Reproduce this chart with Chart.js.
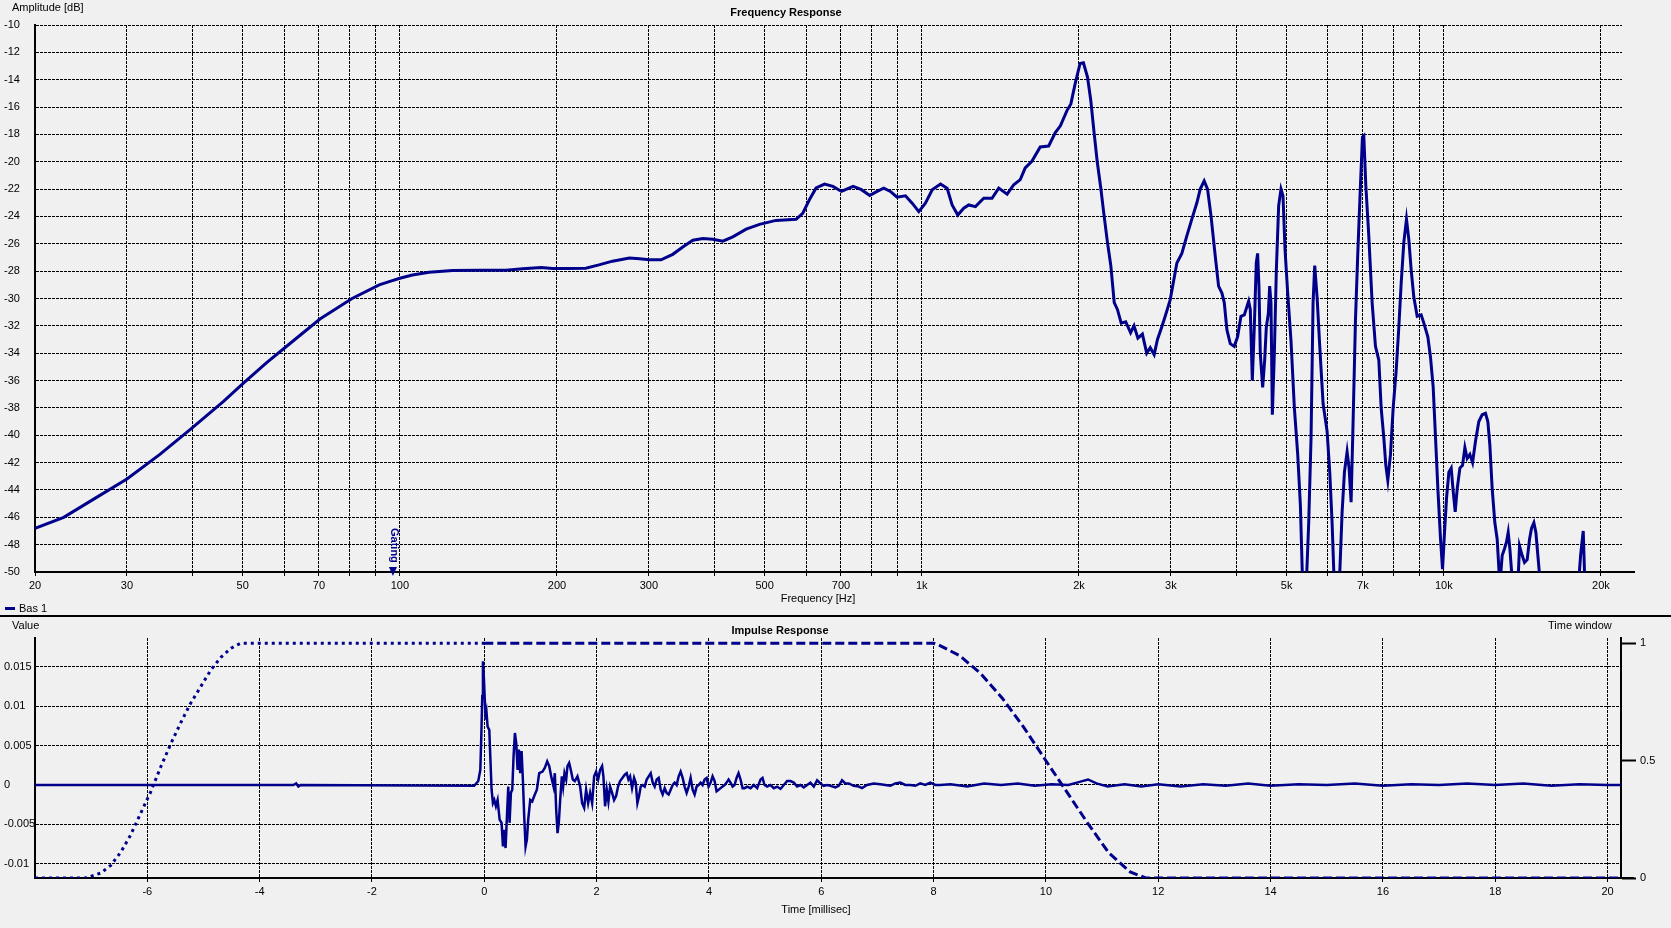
<!DOCTYPE html>
<html>
<head>
<meta charset="utf-8">
<title>Frequency / Impulse Response</title>
<script src="https://cdn.jsdelivr.net/npm/chart.js@4.4.1/dist/chart.umd.min.js"></script>
<style>
  body { margin: 0; background: #f0f0f0; font-family: "Liberation Sans", Arial, sans-serif; font-size: 11px; color: #000; }
  #wrap { position: relative; width: 1671px; height: 928px; overflow: hidden; }
  .txt { position: absolute; line-height: 14px; white-space: nowrap; }
  .mid { transform: translateX(-50%); }
  .bold { font-weight: bold; }
  canvas { position: absolute; left: 0; }
</style>
</head>
<body>
<div id="wrap">
  <canvas id="freqChart" width="1671" height="616" style="top:0"></canvas>
  <canvas id="impChart" width="1671" height="312" style="top:616px"></canvas>

  <div class="txt" style="left:12px;top:0">Amplitude [dB]</div>
  <div class="txt mid bold" style="left:786px;top:5px">Frequency Response</div>
  <div class="txt mid" style="left:818px;top:591px">Frequency [Hz]</div>

  <div style="position:absolute;left:5px;top:607px;width:10px;height:3px;background:#00008b"></div>
  <div class="txt" style="left:19px;top:601px">Bas 1</div>
  <div style="position:absolute;left:0;top:615px;width:1671px;height:2px;background:#000"></div>

  <div class="txt" style="left:12px;top:618px">Value</div>
  <div class="txt mid bold" style="left:780px;top:623px">Impulse Response</div>
  <div class="txt" style="left:1548px;top:618px">Time window</div>
  <div class="txt mid" style="left:816px;top:902px">Time [millisec]</div>
</div>

<script>
// Frequency response (Hz / dB)
const freqHz = [
  20, 22.7, 26.1, 30, 34.7, 39.9, 46, 50.1, 55.5, 61.1, 70.3, 81, 91.3, 95.4,
  100, 105.7, 113.8, 126.2, 142, 159.7, 171.9, 186.5, 196.3, 208.1, 227.1, 240.7,
  255.5, 275.3, 287.9, 300.8, 316.5, 333.3, 348.4, 364.2, 380.6, 397.8, 415.7,
  434.4, 460.8, 488.8, 525.6, 574.3, 591.3, 609, 627.3, 651.1, 675.8, 701.5,
  738.6, 766.2, 794.9, 821, 845.5, 870.6, 896.4, 930.5, 958.3, 986.9,
  1016, 1047, 1086, 1118, 1143, 1172, 1203, 1230, 1267, 1314, 1363, 1404, 1457,
  1500, 1544, 1578, 1625, 1686, 1750, 1802, 1843, 1897, 1930, 1967, 2010, 2040,
  2077, 2107, 2136, 2168, 2202, 2234, 2268, 2302, 2337, 2370, 2410, 2458, 2512,
  2550, 2594, 2646, 2697, 2739, 2787, 2828, 2881, 2926, 2991, 3081, 3149, 3220,
  3291, 3365, 3415, 3475, 3527, 3580, 3649, 3703, 3758, 3797, 3842, 3899, 3968,
  4027, 4087, 4148, 4228, 4259, 4297, 4335, 4373, 4399, 4425, 4451, 4498, 4538,
  4571, 4612, 4639, 4666, 4694, 4736, 4778, 4827, 4877, 4920, 4964, 5023, 5097,
  5173, 5250, 5312, 5375, 5439, 5511, 5568, 5618, 5659, 5718, 5786, 5872, 5976,
  6047, 6110, 6182, 6292, 6386, 6452, 6528, 6586, 6644, 6703, 6773, 6843, 6924,
  6985, 7027, 7089, 7183, 7290, 7398, 7508, 7586, 7676, 7744, 7812, 7905, 7999,
  8105, 8201, 8286, 8384, 8483, 8571, 8660, 8762, 8893, 9051, 9158, 9321, 9432,
  9544, 9643, 9742, 9858, 9945, 10033, 10122, 10227, 10333, 10424, 10517, 10610, 10736,
  10863, 10976, 11089, 11220, 11353, 11505, 11672, 11845, 12021, 12145, 12253,
  12380, 12527, 12656, 12806, 12938, 13072, 13188, 13286, 13384, 13483, 13723,
  13865, 13967, 14133, 14279, 14448, 14598, 14727, 14880, 15011, 15145, 15279,
  15500, 18000, 18149, 18284, 18500, 18637, 18800, 21950
];
const ampDb = [
  -46.8, -46.0, -44.6, -43.2, -41.4, -39.5, -37.5, -36.2, -34.7, -33.4, -31.5, -30.0, -29.0, -28.77,
  -28.52, -28.28, -28.08, -27.96, -27.93, -27.93, -27.83, -27.73, -27.81, -27.81, -27.78, -27.54,
  -27.27, -27.04, -27.09, -27.17, -27.17, -26.77, -26.23, -25.74, -25.62, -25.67, -25.81,
  -25.49, -24.93, -24.58, -24.29, -24.21, -23.77, -22.78, -21.92, -21.63, -21.80, -22.17,
  -21.80, -22.04, -22.46, -22.17, -21.93, -22.17, -22.59, -22.49, -23.03, -23.65,
  -23.03, -22.05, -21.63, -21.93, -23.16, -23.90, -23.40, -23.16, -23.28, -22.67, -22.67, -21.93, -22.37,
  -21.68, -21.31, -20.45, -19.96, -18.92, -18.85, -17.86, -17.37, -16.26, -15.77, -14.29, -12.81, -12.76,
  -13.80, -15.5, -17.7, -20.0, -21.9, -23.9, -25.9, -27.6, -30.3, -30.8, -31.8, -31.7, -32.5,
  -32.0, -32.9, -32.6, -34.0, -33.6, -34.1, -33.0, -32.1, -31.3, -30.1, -27.4, -26.7, -25.4,
  -24.2, -23.0, -22.0, -21.4, -22.0, -23.9, -26.9, -29.1, -29.6, -30.3, -32.3, -33.3, -33.5,
  -32.8, -31.3, -31.2, -30.2, -30.8, -36.0, -32.1, -27.4, -26.7, -29.1, -34.0, -36.5, -34.5,
  -32.1, -31.1, -29.1, -30.3, -38.5, -34.0, -27.9, -23.2, -22.0, -22.5, -26.4, -29.6, -33.1,
  -38.0, -41.4, -45.1, -52, -52, -46.4, -40.2, -30.3, -27.6, -29.9, -33.5, -37.7, -39.7,
  -42.7, -46.4, -52, -52, -45.6, -42.7, -41.2, -42.4, -44.9, -39.0, -31.6, -26.7, -21.7,
  -18.2, -18.1, -21.7, -25.4, -30.3, -33.5, -34.5, -38.0, -40.2, -42.2, -43.3, -41.4, -38.0,
  -35.3, -32.1, -28.9, -25.9, -24.2, -25.7, -27.9, -29.9, -31.3, -31.2, -31.8, -32.8, -34.3,
  -36.5, -40.2, -43.9, -47.6, -49.8, -47.1, -44.6, -42.7, -42.4, -44.1, -45.6, -43.9, -42.4,
  -42.2, -40.9, -41.7, -41.4, -42.0, -40.4, -39.0, -38.5, -38.4, -39.0, -40.7,
  -43.9, -46.4, -47.6, -51, -48.8, -48.3, -47.8, -47.1, -48.3, -49.9, -51,
  -51, -48.1, -48.8, -49.3, -49.1, -47.6, -46.8, -46.4, -47.1, -48.8, -50.5,
  -55, -55, -50.5, -48.8, -47.0, -51, -55, -55
];
const freqGrid = [20, 30, 40, 50, 60, 70, 80, 90, 100, 200, 300, 400, 500, 600, 700, 800, 900,
  1000, 2000, 3000, 4000, 5000, 6000, 7000, 8000, 9000, 10000, 20000];
const freqLabels = ['20', '30', '', '50', '', '70', '', '', '100', '200', '300', '', '500', '', '700', '', '',
  '1k', '2k', '3k', '', '5k', '', '7k', '', '', '10k', '20k'];
const ampTicks = [-50, -48, -46, -44, -42, -40, -38, -36, -34, -32, -30, -28, -26, -24, -22, -20, -18, -16, -14, -12, -10];
const gatingHz = 97;

// Impulse response (ms / value)
const impTimeMs = [
  -8, -3.40, -3.35, -3.31, -3.27, -0.18, -0.107, -0.071, -0.053, -0.036, -0.024, -0.006,
  0.006, 0.024, 0.041, 0.059, 0.089, 0.107, 0.130, 0.154, 0.178, 0.207, 0.237, 0.273,
  0.308, 0.332, 0.356, 0.379, 0.403, 0.427, 0.450, 0.474, 0.498, 0.521, 0.545, 0.569,
  0.593, 0.616, 0.640, 0.664, 0.687, 0.711, 0.735, 0.759, 0.782, 0.818, 0.853, 0.889,
  0.936, 0.978, 1.037, 1.079, 1.120, 1.156, 1.197, 1.233, 1.256, 1.280, 1.304, 1.327,
  1.351, 1.381, 1.404, 1.428, 1.458, 1.481, 1.511, 1.541, 1.576, 1.612, 1.659, 1.707,
  1.742, 1.778, 1.813, 1.849, 1.884, 1.920, 1.956, 1.991, 2.027, 2.062, 2.098, 2.121,
  2.151, 2.181, 2.210, 2.240, 2.276, 2.311, 2.347, 2.382, 2.418, 2.459, 2.501, 2.536,
  2.566, 2.596, 2.631, 2.667, 2.696, 2.726, 2.756, 2.785, 2.821, 2.856, 2.892, 2.927,
  2.963, 2.999, 3.034, 3.070, 3.105, 3.141, 3.176, 3.212, 3.247, 3.283, 3.319, 3.354,
  3.390, 3.425, 3.461, 3.496, 3.532, 3.567, 3.603, 3.639, 3.674, 3.710, 3.745, 3.781,
  3.816, 3.852, 3.887, 3.923, 3.959, 3.994, 4.030, 4.065, 4.101, 4.136, 4.172, 4.207,
  4.243, 4.279, 4.314, 4.350, 4.385, 4.421, 4.456, 4.492, 4.527, 4.563, 4.599, 4.634,
  4.681, 4.741, 4.800, 4.859, 4.919, 4.954, 4.990, 5.037, 5.096, 5.156, 5.215, 5.274,
  5.333, 5.393, 5.452, 5.511, 5.570, 5.630, 5.689, 5.748, 5.807, 5.867, 5.926, 5.985,
  6.044, 6.104, 6.163, 6.252, 6.311, 6.370, 6.430, 6.489, 6.578, 6.667, 6.726, 6.815,
  6.933, 7.052, 7.141, 7.230, 7.319, 7.407, 7.496, 7.585, 7.674, 7.763, 7.852, 7.941,
  8.030, 8.119, 8.3, 8.6, 8.9, 9.2, 9.5, 9.8, 10.1, 10.4, 10.6, 10.75, 10.9, 11.1, 11.4,
  11.7, 12.0, 12.4, 12.8, 13.2, 13.6, 14.0, 14.5, 15.0, 15.5, 16.0, 16.5, 17.0, 17.5,
  18.0, 18.5, 19.0, 19.5, 20.0, 20.24
];
const impValue = [
  0, 0, 0.0002, -0.0002, 0, -0.0001, 0.0005, 0.0019, 0.0062, 0.0113, 0.0157, 0.0134,
  0.0113, 0.0083, 0.0091, 0.0074, 0.0070, 0.0036, -0.0006, -0.0023, -0.0019, -0.0027, -0.0019, -0.0044,
  -0.0048, -0.0078, -0.0057, -0.0080, -0.0040, -0.0002, -0.0048, -0.0010, -0.0006, 0.0036, 0.0066, 0.0053,
  0.0019, 0.0045, 0.0015, 0.0043, 0.0007, -0.0040, -0.0078, -0.0069, -0.0044, -0.0019, -0.0021, -0.0014,
  -0.0006, 0.0015, 0.0017, 0.0022, 0.0030, 0.0024, 0.0009, -0.0002, 0.0015, -0.0031, -0.0061, -0.0048,
  -0.0019, 0.0011, -0.0002, 0.0015, 0.0007, 0.0024, 0.0028, 0.0019, 0.0007, 0.0005, 0.0011, -0.0002,
  -0.0023, -0.0029, -0.0006, -0.0023, -0.0010, -0.0023, 0.0011, 0.0017, 0.0007, 0.0019, 0.0024, 0.0011,
  -0.0027, -0.0006, -0.0021, -0.0002, -0.0010, -0.0019, -0.0014, -0.0002, 0.0005, 0.0009, 0.0013, 0.0015,
  0.0007, 0.0011, -0.0004, 0.0009, 0.0003, -0.0023, -0.0014, -0.0002, 0, -0.0002, 0.0007, 0.0011,
  0.0015, 0.0003, -0.0002, 0.0007, 0.0009, -0.0006, -0.0012, -0.0004, -0.0010, -0.0012, -0.0006, 0,
  0.0003, 0, 0.0011, 0.0017, 0.0009, -0.0002, -0.0010, -0.0002, 0.0009, -0.0006, -0.0012, -0.0002,
  0, 0.0003, 0, 0.0007, 0.0009, -0.0002, 0.0003, 0.0011, 0.0005, -0.0008, -0.0006, -0.0004,
  -0.0002, 0, 0.0003, 0.0007, 0.0003, -0.0002, 0, 0.0009, 0.0015, 0.0007, -0.0004, -0.0004,
  -0.0002, -0.0004, 0, -0.0004, 0.0007, 0.0009, 0, -0.0002, 0, -0.0004, -0.0002, -0.0005,
  0, 0.0005, 0.0005, 0.0003, -0.0002, 0, -0.0003, 0, 0.0003, -0.0002, 0.0006, 0.0002,
  -0.0001, 0, -0.0001, -0.0003, -0.0001, 0.0006, 0.0002, 0.0002, -0.0001, -0.0002, -0.0004, 0,
  0.0002, 0.0001, 0, -0.0001, 0.0002, 0.0003, 0, 0, -0.0001, 0.0002, 0, 0.0003,
  0, 0, 0.0001, -0.0002, 0.0002, 0, 0.0002, -0.0001, 0.0001, 0, 0.0004, 0.0007, 0.0002, -0.0002, 0.0001,
  -0.0002, 0.0001, -0.0002, 0.0001, -0.0001, 0.0002, -0.0001, 0.0001, 0, 0.0002, -0.0001, 0.0001, 0, 0.0002,
  0, 0.0002, -0.0001, 0.0001, 0, 0
];

// Time window, split into the pre-trigger part (dotted) and the rest (dashed)
const winPreMs = [-8, -7.10, -6.83, -6.65, -6.47, -6.30, -6.12, -5.94, -5.76, -5.58, -5.41, -5.23, -5.05, -4.87, -4.69, -4.51, -4.34, 0];
const winPreVal = [0, 0, 0.021, 0.054, 0.111, 0.182, 0.275, 0.367, 0.474, 0.573, 0.659, 0.744, 0.815, 0.886, 0.940, 0.979, 1, 1];
const winPostMs = [0, 8.0, 8.08, 8.46, 8.84, 9.22, 9.60, 9.98, 10.36, 10.74, 11.12, 11.50, 11.78, 20.24];
const winPostVal = [1, 1, 0.994, 0.948, 0.871, 0.767, 0.644, 0.507, 0.371, 0.235, 0.107, 0.026, 0, 0];

const timeTicks = [-6, -4, -2, 0, 2, 4, 6, 8, 10, 12, 14, 16, 18, 20];
const valueTicks = [-0.01, -0.005, 0, 0.005, 0.01, 0.015];
const valueLabels = ['-0.01', '-0.005', '0', '0.005', '0.01', '0.015'];
const windowTicks = [0, 0.5, 1];
const windowLabels = ['0', '0.5', '1'];

const navy = '#00008b';
const gridDash = [3, 1];

Chart.defaults.font.family = "'Liberation Sans', Arial, sans-serif";
Chart.defaults.font.size = 11;
Chart.defaults.color = '#000';

const zip = (xs, ys) => xs.map((x, i) => ({ x: x, y: ys[i] }));

// the x axis line runs a little past the plot on the right
const axisTail = {
  id: 'axisTail',
  afterDraw(chart) {
    const { ctx, chartArea } = chart;
    ctx.save();
    ctx.strokeStyle = '#000';
    ctx.lineWidth = 2;
    ctx.beginPath();
    ctx.moveTo(chartArea.right, chartArea.bottom);
    ctx.lineTo(chartArea.right + 13, chartArea.bottom);
    ctx.stroke();
    ctx.restore();
  }
};

// "Gating" marker drawn at the gate frequency
const gatingMarker = {
  id: 'gatingMarker',
  afterDatasetsDraw(chart) {
    const { ctx, scales: { x, y } } = chart;
    const px = x.getPixelForValue(gatingHz);
    const base = y.getPixelForValue(-50);
    ctx.save();
    ctx.fillStyle = navy;
    ctx.beginPath();
    ctx.moveTo(px - 4, base - 5);
    ctx.lineTo(px + 4, base - 5);
    ctx.lineTo(px, base + 4);
    ctx.closePath();
    ctx.fill();
    ctx.translate(px + 1, base - 44);
    ctx.rotate(Math.PI / 2);
    ctx.font = "bold 11px 'Liberation Sans', Arial, sans-serif";
    ctx.textBaseline = 'middle';
    ctx.fillText('Gating', 0, 0);
    ctx.restore();
  }
};

const freqChart = new Chart(document.getElementById('freqChart'), {
  type: 'line',
  data: {
    datasets: [{
      label: 'Bas 1',
      data: zip(freqHz, ampDb),
      borderColor: navy,
      borderWidth: 3,
      pointRadius: 0,
      tension: 0,
    }],
  },
  options: {
    responsive: false,
    animation: false,
    devicePixelRatio: 1,
    layout: { padding: { left: 4, top: 25, right: 49, bottom: 0 } },
    plugins: { legend: { display: false }, tooltip: { enabled: false } },
    scales: {
      x: {
        type: 'logarithmic',
        min: 20,
        max: 21950,
        bounds: 'data',
        afterBuildTicks: (s) => { s.ticks = freqGrid.map((v) => ({ value: v })); },
        afterFit: (s) => { s.height = 44; },
        ticks: { autoSkip: false, maxRotation: 0, padding: 2, callback: (v, i) => freqLabels[i] },
        grid: { color: '#000', lineWidth: 1, tickLength: 5, tickBorderDash: gridDash },
        border: { color: '#000', width: 2, dash: gridDash },
      },
      y: {
        min: -50,
        max: -10,
        afterBuildTicks: (s) => { s.ticks = ampTicks.map((v) => ({ value: v })); },
        afterFit: (s) => { s.width = 31; },
        ticks: { crossAlign: 'far', padding: 0 },
        grid: { color: '#000', lineWidth: 1, drawTicks: false },
        border: { color: '#000', width: 2, dash: gridDash },
      },
    },
  },
  plugins: [gatingMarker, axisTail],
});

const impChart = new Chart(document.getElementById('impChart'), {
  type: 'line',
  data: {
    datasets: [
      {
        label: 'Impulse',
        data: zip(impTimeMs, impValue),
        borderColor: navy,
        borderWidth: 2.5,
        pointRadius: 0,
        tension: 0,
        yAxisID: 'y',
      },
      {
        label: 'Window (pre)',
        data: zip(winPreMs, winPreVal),
        borderColor: navy,
        borderWidth: 3,
        borderDash: [3, 4],
        pointRadius: 0,
        tension: 0,
        yAxisID: 'y2',
      },
      {
        label: 'Window',
        data: zip(winPostMs, winPostVal),
        borderColor: navy,
        borderWidth: 3,
        borderDash: [9, 4],
        pointRadius: 0,
        tension: 0,
        yAxisID: 'y2',
      },
    ],
  },
  options: {
    responsive: false,
    animation: false,
    devicePixelRatio: 1,
    layout: { padding: { left: 4, top: 22, right: 0, bottom: 0 } },
    plugins: { legend: { display: false }, tooltip: { enabled: false } },
    scales: {
      x: {
        type: 'linear',
        min: -8,
        max: 20.24,
        afterBuildTicks: (s) => { s.ticks = timeTicks.map((v) => ({ value: v })); },
        afterFit: (s) => { s.height = 50; },
        ticks: { autoSkip: false, maxRotation: 0, padding: 2, callback: (v) => String(v) },
        grid: { color: '#000', lineWidth: 1, tickLength: 5, tickBorderDash: gridDash },
        border: { color: '#000', width: 2, dash: gridDash },
      },
      y: {
        position: 'left',
        min: -0.0118,
        max: 0.01865,
        afterBuildTicks: (s) => { s.ticks = valueTicks.map((v) => ({ value: v })); },
        afterFit: (s) => { s.width = 31; },
        ticks: { crossAlign: 'far', padding: 0, callback: (v, i) => valueLabels[i] },
        grid: { color: '#000', lineWidth: 1, drawTicks: false },
        border: { color: '#000', width: 2, dash: gridDash },
      },
      y2: {
        position: 'right',
        min: 0,
        max: 1.0225,
        afterBuildTicks: (s) => { s.ticks = windowTicks.map((v) => ({ value: v })); },
        afterFit: (s) => { s.width = 50; },
        ticks: { padding: 4, callback: (v, i) => windowLabels[i] },
        grid: { drawOnChartArea: false, color: '#000', tickColor: '#000', tickWidth: 2, tickLength: 15 },
        border: { color: '#000', width: 2 },
      },
    },
  },
  plugins: [axisTail],
});
</script>
</body>
</html>
